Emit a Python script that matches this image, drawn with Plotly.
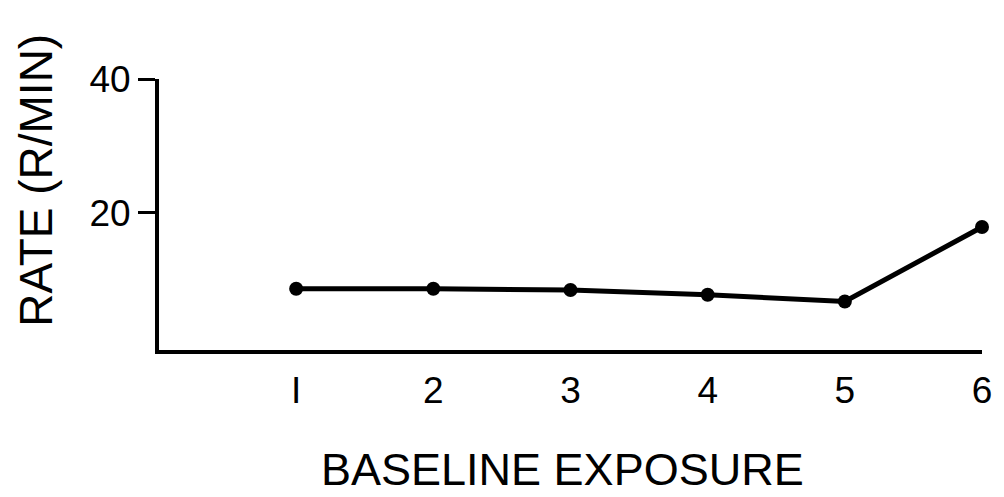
import plotly.graph_objects as go

# Response rate across successive baseline exposures
exposure = [1, 2, 3, 4, 5, 6]
rate = [8.7, 8.7, 8.5, 7.8, 6.8, 17.9]
y_ticks = [20, 40]
x_ticks = [1, 2, 3, 4, 5, 6]
x_tick_labels = ["I", "2", "3", "4", "5", "6"]

FONT = "Liberation Sans, Arial, sans-serif"

fig = go.Figure()
fig.add_trace(go.Scatter(
    x=exposure, y=rate, mode="lines+markers",
    line=dict(color="black", width=5),
    marker=dict(color="black", size=14),
    cliponaxis=False, showlegend=False,
))

fig.update_layout(
    width=1004, height=497,
    margin=dict(l=159, r=15, t=79, b=147),
    paper_bgcolor="white", plot_bgcolor="white",
    font=dict(family=FONT, color="black"),
)
fig.update_xaxes(
    range=[0, 6], showgrid=False, zeroline=False,
    showline=True, linecolor="black", linewidth=4,
    tickvals=x_ticks, ticktext=x_tick_labels, ticks="",
    tickfont=dict(size=37, family=FONT), ticklabelstandoff=5,
)
fig.update_yaxes(
    range=[-0.45, 40], showgrid=False, zeroline=False,
    showline=True, linecolor="black", linewidth=4,
    tickvals=y_ticks, ticks="outside", ticklen=17, tickwidth=3, tickcolor="black",
    tickfont=dict(size=37, family=FONT),
)

fig.add_annotation(
    text="RATE (R/MIN)", textangle=-90, showarrow=False,
    xref="paper", x=0, xanchor="center", xshift=-123,
    yref="y", y=24.8, yanchor="middle",
    font=dict(size=46, family=FONT, color="black"),
)
fig.add_annotation(
    text="BASELINE EXPOSURE", showarrow=False,
    xref="x", x=2.94, xanchor="center",
    yref="paper", y=0, yanchor="middle", yshift=-119,
    font=dict(size=45, family=FONT, color="black"),
)

fig.write_html("out.html")
